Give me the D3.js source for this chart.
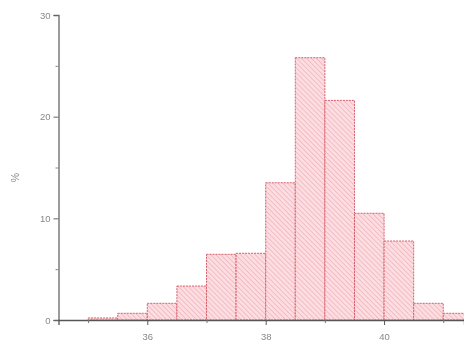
<!DOCTYPE html>
<html>
<head>
<meta charset="utf-8">
<script src="https://cdn.jsdelivr.net/npm/d3@7"></script>
<style>
  html, body { margin: 0; padding: 0; background: #fff; }
  svg { display: block; }
  .tick text { font-family: "Liberation Sans", Arial, sans-serif; }
</style>
</head>
<body>
<script>
// Histogram of readings, 0.5-wide bins, values in percent
const binStarts = [35.0, 35.5, 36.0, 36.5, 37.0, 37.5, 38.0, 38.5, 39.0, 39.5, 40.0, 40.5, 41.0];
const percents  = [0.2, 0.66, 1.64, 3.34, 6.46, 6.56, 13.5, 25.8, 21.6, 10.5, 7.77, 1.64, 0.66];
const binWidth = 0.5;
const xMajorTicks = [36, 38, 40];
const xMinorTicks = [35, 37, 39, 41];
const yMajorTicks = [0, 10, 20, 30];
const yMinorTicks = [5, 15, 25];
const yTitle = "%";

const W = 464, H = 345;
const svg = d3.select("body").append("svg").attr("width", W).attr("height", H);

const x = d3.scaleLinear().domain([34.5, 41.35]).range([58.5, 464]);
const y = d3.scaleLinear().domain([0, 30]).range([320, 15]);

const defs = svg.append("defs");
const pat = defs.append("pattern")
  .attr("id", "hatch")
  .attr("patternUnits", "userSpaceOnUse")
  .attr("width", 3.5).attr("height", 3.5)
  .attr("patternTransform", "rotate(-45)");
pat.append("rect").attr("width", 3.5).attr("height", 3.5).attr("fill", "#fcdde1");
pat.append("line").attr("x1", 0).attr("y1", 0).attr("x2", 0).attr("y2", 3.5)
  .attr("stroke", "#ec9ea7").attr("stroke-width", 1);

const soft = defs.append("filter").attr("id", "soft");
soft.append("feGaussianBlur").attr("stdDeviation", 0.45);

const g = svg.append("g").attr("filter", "url(#soft)");

// bars
g.append("g").selectAll("rect")
  .data(binStarts.map((s, i) => ({ s, v: percents[i] })))
  .join("rect")
  .attr("x", d => x(d.s))
  .attr("y", d => y(d.v))
  .attr("width", d => x(d.s + binWidth) - x(d.s))
  .attr("height", d => y(0) - y(d.v))
  .attr("fill", "url(#hatch)")
  .attr("stroke", "#d8606e")
  .attr("stroke-width", 1)
  .attr("stroke-dasharray", "2,1");

// y axis
const yAxis = g.append("g").attr("transform", `translate(${x(34.5)},0)`)
  .call(d3.axisLeft(y).tickValues(yMajorTicks).tickSize(5).tickPadding(3).tickFormat(d3.format("d")));
yAxis.select(".domain").attr("stroke", "#666").attr("stroke-width", 1.3);
yAxis.selectAll(".tick line").attr("stroke", "#666");
yAxis.selectAll(".tick text").attr("fill", "#888").attr("font-size", 9.5);
g.append("g").attr("transform", `translate(${x(34.5)},0)`)
  .call(d3.axisLeft(y).tickValues(yMinorTicks).tickSize(3).tickFormat(""))
  .call(a => a.select(".domain").remove())
  .selectAll("line").attr("stroke", "#888");

// x axis
const xAxis = g.append("g").attr("transform", `translate(0,${y(0)})`)
  .call(d3.axisBottom(x).tickValues(xMajorTicks).tickSize(5).tickPadding(8).tickFormat(d3.format("d")));
xAxis.select(".domain").attr("stroke", "#555").attr("stroke-width", 1.3);
xAxis.selectAll(".tick line").attr("stroke", "#555");
xAxis.selectAll(".tick text").attr("fill", "#888").attr("font-size", 9.5);
g.append("g").attr("transform", `translate(0,${y(0)})`)
  .call(d3.axisBottom(x).tickValues(xMinorTicks).tickSize(3).tickFormat(""))
  .call(a => a.select(".domain").remove())
  .selectAll("line").attr("stroke", "#777");

// y title
g.append("text")
  .attr("transform", `translate(19,${y(14)}) rotate(-90)`)
  .attr("text-anchor", "middle")
  .attr("font-family", "Liberation Sans, Arial, sans-serif")
  .attr("font-size", 10.5)
  .attr("fill", "#888")
  .text(yTitle);
</script>
</body>
</html>
